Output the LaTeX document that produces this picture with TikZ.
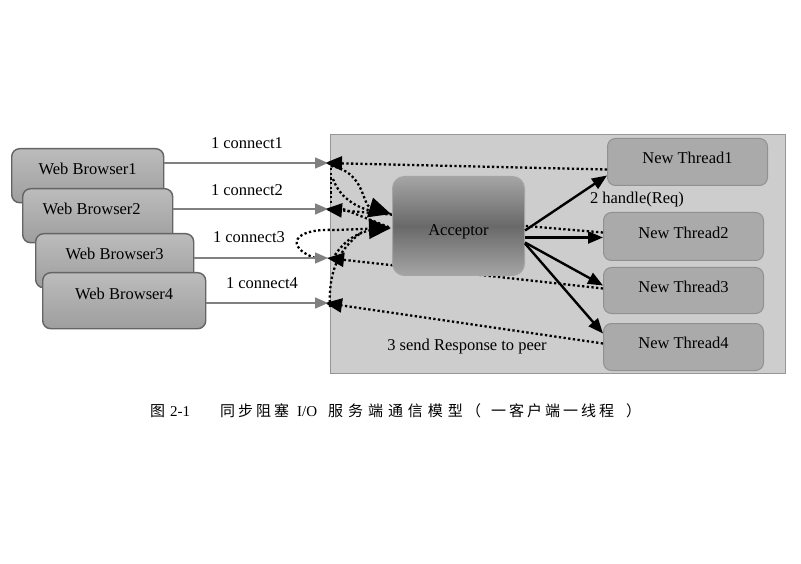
\documentclass[tikz,border=0pt]{standalone}
\usepackage{fontspec}
\setmainfont{Liberation Serif}
\newfontfamily\cjk{Noto Sans CJK SC}
\newfontfamily\cjkA[LetterSpace=20]{Noto Sans CJK SC}
\newfontfamily\cjkB[LetterSpace=33]{Noto Sans CJK SC}
\usetikzlibrary{arrows.meta,calc}
\definecolor{srvfill}{RGB}{205,205,205}
\definecolor{srvline}{RGB}{150,150,150}
\definecolor{brtop}{RGB}{188,188,188}
\definecolor{brbot}{RGB}{158,158,158}
\definecolor{brline}{RGB}{100,100,100}
\definecolor{thfill}{RGB}{170,170,170}
\definecolor{thline}{RGB}{145,145,145}
\definecolor{accedge}{RGB}{165,165,165}
\definecolor{accmid}{RGB}{105,105,105}
\definecolor{connc}{RGB}{128,128,128}
\begin{document}
\begin{tikzpicture}[x=1pt,y=-1pt,
  every node/.style={font=\fontsize{16.5}{19}\selectfont},
  browser/.style={draw=brline,line width=1.4pt,rounded corners=8pt,top color=brtop,bottom color=brbot,anchor=north west,inner sep=0pt},
  thread/.style={draw=thline,line width=1pt,rounded corners=8pt,fill=thfill,anchor=north west,inner sep=0pt},
  server/.style={draw=srvline,line width=1pt,fill=srvfill,anchor=north west,inner sep=0pt},
  acc/.style={draw=accedge,line width=1pt,rounded corners=12pt,top color=accedge,bottom color=accedge,middle color=accmid,anchor=north west,inner sep=0pt},
  brlbl/.style={yshift=7pt},
  thlbl/.style={yshift=4pt},
  conn/.style={draw=connc,line width=1.5pt,-{Triangle[length=13pt,width=11pt]}},
  dots/.style={line width=2.3pt,dash pattern=on 2.3pt off 2.4pt},
  resp/.style={dots,-{Triangle[length=17pt,width=14pt]}},
  big/.style={-{Triangle[length=22pt,width=20pt]}},
  handle/.style={line width=2.4pt,-{Triangle[length=15pt,width=12pt]}},
  txt/.style={inner sep=0pt},
]
\useasboundingbox[fill=white] (0,0) rectangle (801,564);

% server area
\node[server,minimum width=455pt,minimum height=239pt] (S) at (330,134) {};

% threads
\node[thread,minimum width=160pt,minimum height=47pt,label={[thlbl]center:New Thread1}] (T1) at (607,138) {};
\node[thread,minimum width=160pt,minimum height=48pt,label={[thlbl]center:New Thread2}] (T2) at (603,212) {};
\node[thread,minimum width=160pt,minimum height=46pt,label={[thlbl]center:New Thread3}] (T3) at (603,267) {};
\node[thread,minimum width=160pt,minimum height=47pt,label={[thlbl]center:New Thread4}] (T4) at (603,323) {};

% response end points
\coordinate (r1) at (325,163);
\coordinate (r2) at (325,209);
\coordinate (r3) at (327,258);
\coordinate (r4) at (325,303);

% responses (behind acceptor)
\draw[resp] ([yshift=-7.5pt]T1.west) -- (r1);
\draw[resp] ([yshift=4pt]T2.west) -- (r2);
\draw[resp] ([yshift=2pt]T3.west) -- (r3);
\draw[resp] ([yshift=3.5pt]T4.west) -- (r4);

% acceptor
\node[acc,minimum width=132pt,minimum height=99pt,label={[yshift=-6pt]center:Acceptor}] (A) at (392,176) {};

% handle arrows
\draw[handle] ([yshift=-4.5pt]A.east) -- ([yshift=-13.5pt]T1.west);
\draw[handle] ([yshift=-11.5pt]A.east) -- ([yshift=-1pt]T2.west);
\draw[handle] ([yshift=-16.5pt]A.east) -- ([yshift=5pt]T3.west);
\draw[handle] ([yshift=-17.5pt]A.east) -- ([yshift=13.5pt]T4.west);

% dotted connections into the acceptor
\coordinate (a1) at (391,214);
\coordinate (a2) at (391,228);
\coordinate (g4) at (362,232);
\draw[dots,big] ([xshift=6pt,yshift=-3pt]r1) .. controls (365,172) and (362,205) .. (a1);
\draw[dots] ([xshift=6pt,yshift=-5pt]r1) -- ([xshift=6pt,yshift=5pt]r2);
\draw[dots] ([xshift=8pt,yshift=-16pt]r1) .. controls (340,198) and (358,212) .. (a1);
\draw[dots] ([xshift=18pt]r2) -- (a2);
\draw[dots,big] ([xshift=-12pt]r3) .. controls (285,247) and (292,228) .. (335,230) -- (a2);
\draw[dots] ([xshift=8pt,yshift=3pt]r3) .. controls (345,240) and (360,228) .. (a2);
\draw[dots] ([xshift=5pt,yshift=-4pt]r4) .. controls (328,270) and (340,248) .. (g4);

% browsers
\node[browser,minimum width=152pt,minimum height=54pt,label={[brlbl]center:Web Browser1}] (B1) at (11,148) {};
\node[browser,minimum width=150pt,minimum height=54pt,label={[brlbl,xshift=-6pt]center:Web Browser2}] (B2) at (22,188) {};
\node[browser,minimum width=158pt,minimum height=54pt,label={[brlbl]center:Web Browser3}] (B3) at (35,233) {};
\node[browser,minimum width=163pt,minimum height=56pt,label={[brlbl]center:Web Browser4}] (B4) at (42,272) {};

% connect arrows
\coordinate (c1) at (328,163);
\coordinate (c2) at (328,209);
\coordinate (c3) at (328,258);
\coordinate (c4) at (328,303);
\draw[conn] (B1.east |- c1) -- (c1);
\draw[conn] (B2.east |- c2) -- (c2);
\draw[conn] (B3.east |- c3) -- (c3);
\draw[conn] (B4.east |- c4) -- (c4);

% labels
\node[txt] (l1) at (247,143) {1 connect1};
\node[txt] (l2) at (247,190) {1 connect2};
\node[txt] (l3) at (249,237) {1 connect3};
\node[txt] (l4) at (262,283) {1 connect4};
\node[txt] (lh) at (637,200) {2 handle(Req)};
\node[txt] (lr) at (467,347) {3 send Response to peer};

% caption
\node[txt,anchor=west,font=\fontsize{15}{18}\selectfont] (cap) at (150,411)
  {\makebox[70pt][l]{{\cjk 图}\hspace{5pt}2-1}%
   \makebox[73pt][l]{\cjkA 同步阻塞}%
   \makebox[35pt][l]{\hspace{4pt}I/O}%
   \makebox[138pt][l]{\cjkB 服务端通信模型}%
   \makebox[25pt][l]{\cjk （}%
   \makebox[135pt][l]{\cjkA 一客户端一线程}%
   {\cjk ）}};
\end{tikzpicture}
\end{document}
